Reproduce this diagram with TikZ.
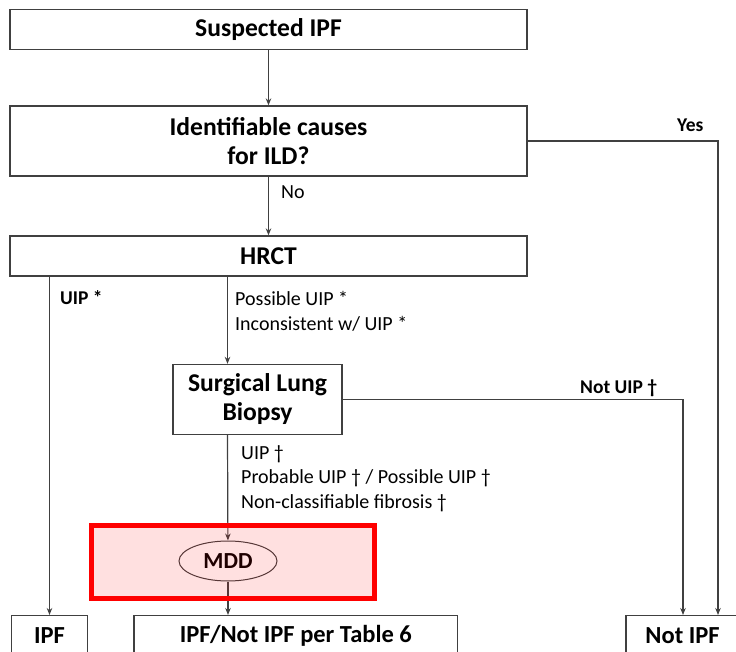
\documentclass[tikz,border=0pt]{standalone}
\usepackage{fontspec}
\setmainfont{Carlito}
\usetikzlibrary{arrows.meta,positioning,shapes.geometric}

\tikzset{
	box/.style={draw=black!75, line width=1.3pt, align=center, inner sep=0pt, font=\bfseries\fontsize{25.6}{29}\selectfont},
	endbox/.style={box, anchor=north, minimum height=40pt, font=\bfseries\fontsize{24.5}{28}\selectfont},
	lab/.style={anchor=base west, align=left, inner sep=0pt, font=\fontsize{20}{24.5}\selectfont},
	blab/.style={lab, font=\bfseries\fontsize{19.5}{24}\selectfont},
	flow/.style={draw=black!75, line width=1.2pt, -{Stealth[length=7pt,width=5.5pt]}},
}

\begin{document}
\begin{tikzpicture}[x=1pt,y=-1pt]
\useasboundingbox (0,0) rectangle (736,652);
\clip (0,0) rectangle (736,652);

% boxes
\node[box, minimum width=517pt, minimum height=40pt] (susp) at (268.5,29.3) {Suspected IPF};
\node[box, minimum width=517pt, minimum height=70pt] (ident) at (268.5,141) {Identifiable causes\\for ILD?};
\node[box, minimum width=517pt, minimum height=40pt] (hrct) at (268.5,256) {HRCT};
\node[box, minimum width=169pt, minimum height=70pt] (slb) at (257.5,399.5) {Surgical Lung\\Biopsy};
\node[ellipse, draw=black!75, line width=1pt, minimum width=98pt, minimum height=40pt, inner sep=0pt,
	font=\bfseries\fontsize{23}{27}\selectfont] (mdd) at (228,561) {MDD};
\node[endbox, minimum width=76pt] (ipf) at (49.5,615) {IPF};
\node[endbox, minimum width=323.5pt] (tab) at (295.8,615) {IPF/Not IPF per Table 6};
\node[endbox, minimum width=134pt] (notipf) at (693,615) {\hspace*{-21pt}Not IPF};

% branch columns
\coordinate (slbx) at (227.5,0);
\coordinate (yesx) at (718,0);
\coordinate (nuipx) at (683,0);

% connectors
\draw[flow] (susp) -- (ident);
\draw[flow] (ident) -- (hrct);
\draw[flow] (ident.east) -| (notipf.north -| yesx);
\draw[flow] (hrct.south -| ipf) -- (ipf);
\draw[flow] (hrct.south -| slbx) -- (slb.north -| slbx);
\draw[flow] (slb.east) -| (notipf.north -| nuipx);
\draw[flow] (slb.south -| slbx) -- (mdd);
\draw[flow] (mdd) -- (tab.north -| mdd);

% labels (base = last line)
\node[blab] (yes) at (677,132) {Yes};
\node[lab] (no) at (281,199) {No};
\node[blab] (uip) at (60,305) {UIP *};
\node[lab] (poss) at (235,330) {Possible UIP *\\Inconsistent w/ UIP *};
\node[blab] (nuip) at (580,393) {Not UIP †};
\node[lab] (biop) at (241,508) {UIP †\\Probable UIP † / Possible UIP †\\Non-classifiable fibrosis †};

% highlight
\node[draw=red, line width=5pt, fill=red, fill opacity=0.12, inner sep=0pt,
	minimum width=282.5pt, minimum height=72.5pt] (focus) at (232.75,561.75) {};
\end{tikzpicture}
\end{document}
